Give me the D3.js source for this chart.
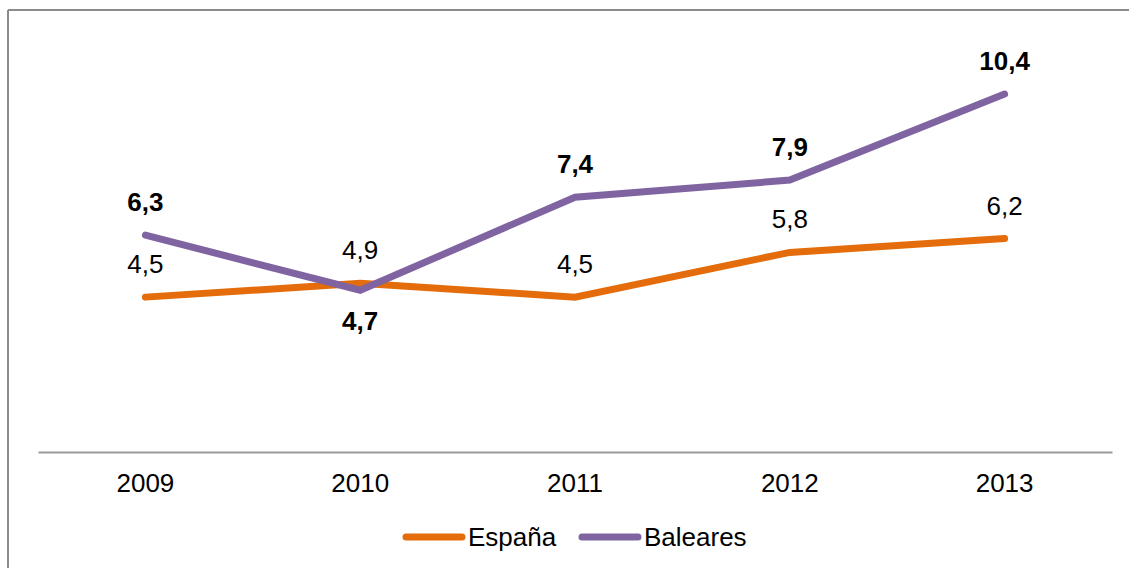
<!DOCTYPE html>
<html><head><meta charset="utf-8">
<script src="https://cdn.jsdelivr.net/npm/d3@7/dist/d3.min.js"></script>
<style>body{margin:0;background:#fff}svg{display:block}</style>
</head><body>
<svg id="c" width="1129" height="568"></svg>
<script>
const categories = ["2009","2010","2011","2012","2013"];
const espana = [4.5, 4.9, 4.5, 5.8, 6.2];
const baleares = [6.3, 4.7, 7.4, 7.9, 10.4];
const balearesLabelPos = ["above","below","above","above","above"];
const seriesNames = ["España","Baleares"];
const colors = ["#E46C0A","#8064A2"];

const svg = d3.select("#c");
const font = "'Liberation Sans', Arial, sans-serif";

// frame
svg.append("line").attr("x1",8).attr("x2",1129).attr("y1",10).attr("y2",10).attr("stroke","#8c8c8c").attr("stroke-width",2);
svg.append("line").attr("x1",8).attr("x2",8).attr("y1",10).attr("y2",568).attr("stroke","#8c8c8c").attr("stroke-width",2);

const x = d3.scaleBand().domain(categories).range([38,1112]);
const y = d3.scaleLinear().domain([0,12]).range([452,39]);
const cx = d => x(d) + x.bandwidth()/2;

// axis
const ax = svg.append("g").attr("transform","translate(0,452)")
  .call(d3.axisBottom(x).tickSize(0).tickPadding(22));
ax.select(".domain").attr("stroke","#999").attr("stroke-width",2);
ax.selectAll("text").attr("font-family",font).attr("font-size",26).attr("fill","#000").attr("dy","0.71em");

const line = d3.line().x((d,i)=>cx(categories[i])).y(d=>y(d));
[espana,baleares].forEach((s,k)=>{
  svg.append("path").attr("d",line(s)).attr("fill","none").attr("stroke",colors[k])
    .attr("stroke-width",7).attr("stroke-linecap","round").attr("stroke-linejoin","miter");
});

const fmt = v => d3.format(".1f")(v).replace(".",",");
svg.append("g").selectAll("text").data(espana).join("text")
  .attr("x",(d,i)=>cx(categories[i])).attr("y",d=>y(d)-24)
  .attr("text-anchor","middle").attr("font-family",font).attr("font-size",26).attr("fill","#000")
  .text(fmt);
svg.append("g").selectAll("text").data(baleares).join("text")
  .attr("x",(d,i)=>cx(categories[i])).attr("y",(d,i)=>balearesLabelPos[i]==="above"? y(d)-24 : y(d)+40)
  .attr("text-anchor","middle").attr("font-family",font).attr("font-size",26).attr("font-weight","bold").attr("fill","#000")
  .text(fmt);

// legend
const legX = [406, 582];
seriesNames.forEach((n,k)=>{
  const g = svg.append("g");
  g.append("line").attr("x1",legX[k]).attr("x2",legX[k]+56).attr("y1",537).attr("y2",537)
    .attr("stroke",colors[k]).attr("stroke-width",7).attr("stroke-linecap","round");
  g.append("text").attr("x",legX[k]+62).attr("y",546).attr("font-family",font).attr("font-size",26).attr("fill","#000").text(n);
});
</script>
</body></html>
